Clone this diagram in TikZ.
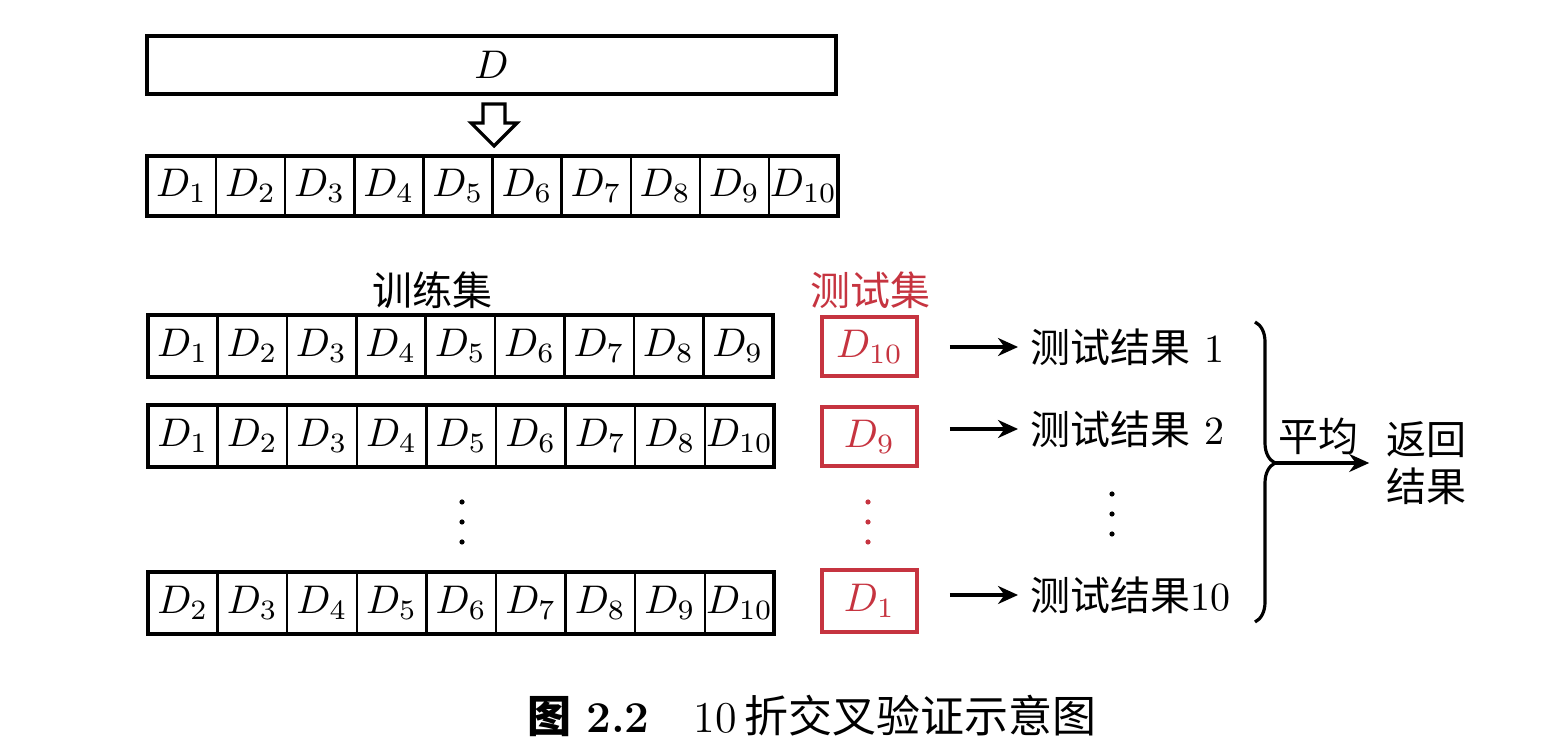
\documentclass[tikz,border=0pt]{standalone}
\usepackage{fontspec}
\newfontfamily\cjk{Noto Sans CJK SC}
\usetikzlibrary{arrows.meta,decorations.pathreplacing}
\definecolor{testred}{RGB}{198,52,64}
\begin{document}
\begin{tikzpicture}[x=0.25pt,y=-0.25pt,
  font=\fontsize{10}{12}\selectfont,
  cell/.style={draw,line width=0.6pt,inner sep=0pt,outer sep=0pt,minimum height=15.5pt,minimum width=17.4pt},
  frame/.style={line width=1pt},
  redbox/.style={draw=testred,line width=0.9pt,text=testred,inner sep=0pt,minimum width=23.75pt,minimum height=14.75pt},
  arr/.style={line width=0.8pt,-{Stealth[length=5pt,width=4.5pt]}},
  lbl/.style={inner sep=0pt,font=\cjk\fontsize{10}{12}\selectfont},
  dot/.style={circle,fill,inner sep=0pt,minimum size=1.3pt},
]
\useasboundingbox (0,0) rectangle (1562,756);

% whole data set
\node[draw,line width=0.8pt,minimum width=172.25pt,minimum height=14.5pt,inner sep=0pt] (D) at (491.5,65) {$D$};

% hollow arrow
\draw[line width=0.8pt,fill=white] (483,104) -- (505,104) -- (505,123) -- (517,123) -- (494,146) -- (471,123) -- (483,123) -- cycle;

% split row
\foreach \i in {1,...,10}
  \node[cell,minimum width=17.275pt,minimum height=15pt] (a\i) at ({147+69.1*(\i-0.5)},186) {$D_{\i}$};
\draw[frame] (a1.north west) rectangle (a10.south east);

% labels
\node[lbl] (train) at (432,290) {训练集};
\node[lbl,text=testred] (test) at (870,290) {测试集};

% row 1
\foreach \i in {1,...,9}
  \node[cell] (b\i) at ({148+69.4*(\i-0.5)},346) {$D_{\i}$};
\draw[frame] (b1.north west) rectangle (b9.south east);
\node[redbox] (t1) at (869.5,346.5) {$D_{10}$};

% row 2
\foreach \l [count=\i] in {1,2,3,4,5,6,7,8,10}
  \node[cell] (c\i) at ({148+69.6*(\i-0.5)},436) {$D_{\l}$};
\draw[frame] (c1.north west) rectangle (c9.south east);
\node[redbox] (t2) at (869.5,436.5) {$D_{9}$};

% dots
\foreach \y [count=\k] in {502,522,542} {
  \node[dot] (bd\k) at (462,\y) {};
  \node[dot,testred] (rd\k) at (868,\y) {};
  \node[dot] (gd\k) at (1112,{\y-8}) {};
}

% row 10
\foreach \l [count=\i] in {2,...,10}
  \node[cell] (d\i) at ({148+69.6*(\i-0.5)},603) {$D_{\l}$};
\draw[frame] (d1.north west) rectangle (d9.south east);
\node[redbox,minimum height=15.5pt] (t4) at (869.5,601) {$D_{1}$};

% results
\node[inner sep=0pt,anchor=west] (r1) at (1030,347) {{\cjk 测试结果} 1};
\node[inner sep=0pt,anchor=west] (r2) at (1030,429) {{\cjk 测试结果} 2};
\node[inner sep=0pt,anchor=west] (r4) at (1030,595) {{\cjk 测试结果}10};
\draw[arr,shorten <=7.75pt,shorten >=3pt] (t1.east |- r1.west) -- (r1.west);
\draw[arr,shorten <=7.75pt,shorten >=3pt] (t2.east |- r2.west) -- (r2.west);
\draw[arr,shorten <=7.75pt,shorten >=3pt] (t4.east |- r4.west) -- (r4.west);

% brace and average
\draw[line width=0.8pt,decorate,decoration={brace,amplitude=5pt,aspect=0.47}] (1255,322) -- (1255,622);
\coordinate (bt) at (1275,463);
\node[inner sep=0pt,align=center,font=\cjk\fontsize{10}{11.75}\selectfont] (ret) at (1426,463) {返回\\结果};
\draw[arr,shorten >=4pt] (bt) -- (bt -| ret.west);
\node[lbl] (avg) at (1318,436) {平均};

% caption
\node[inner sep=0pt,font=\fontsize{11}{13}\selectfont] (cap) at (812,716) {{\cjk\bfseries 图}\ \textbf{2.2}\quad 10\,{\cjk 折交叉验证示意图}};
\end{tikzpicture}
\end{document}
